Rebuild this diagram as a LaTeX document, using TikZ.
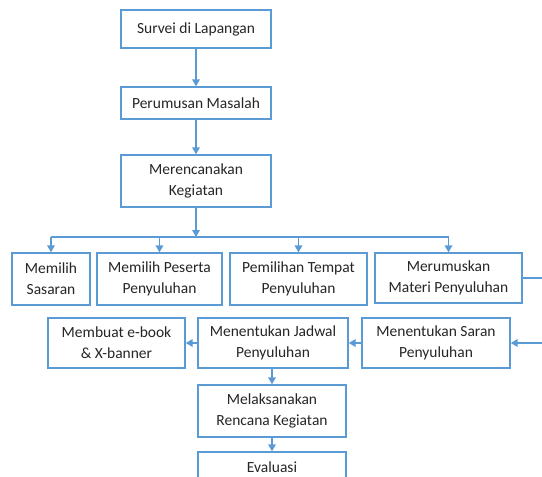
\documentclass[tikz,border=0pt]{standalone}
\usepackage{fontspec}
\setmainfont{Carlito}
\usetikzlibrary{arrows.meta}

\definecolor{boxblue}{RGB}{91,155,213}
\definecolor{txtgrey}{RGB}{38,38,38}

\tikzstyle{kotak} = [draw=boxblue, line width=1.3pt, fill=white, align=center, inner sep=2pt, text=txtgrey, font=\fontsize{15.5}{21}\selectfont]
\tikzstyle{garis} = [draw=boxblue, line width=1.7pt]
\tikzstyle{panah} = [garis, -{Triangle[width=7.5pt,length=7pt]}]

\begin{document}
\begin{tikzpicture}[x=1pt,y=-1pt]
      \useasboundingbox (0,0) rectangle (542,477);
      \clip (0,0) rectangle (542,477);

      \node[kotak, minimum width=150pt, minimum height=38pt] (survei) at (196,29) {Survei di Lapangan};
      \node[kotak, minimum width=150pt, minimum height=32pt] (perumusan) at (196,103) {Perumusan Masalah};
      \node[kotak, minimum width=150pt, minimum height=52pt] (rencana) at (196,181) {Merencanakan\\Kegiatan};

      \node[kotak, minimum width=78pt, minimum height=52pt] (sasaran) at (51,279) {Memilih\\Sasaran};
      \node[kotak, minimum width=125pt, minimum height=52pt] (peserta) at (159.5,279) {Memilih Peserta\\Penyuluhan};
      \node[kotak, minimum width=137pt, minimum height=52pt] (tempat) at (298.5,279) {Pemilihan Tempat\\Penyuluhan};
      \node[kotak, minimum width=147pt, minimum height=50pt] (materi) at (448.5,278) {Merumuskan\\Materi Penyuluhan};

      \node[kotak, minimum width=137pt, minimum height=50pt] (ebook) at (116.5,343) {Membuat e-book\\\& X-banner};
      \node[kotak, minimum width=150pt, minimum height=50pt] (jadwal) at (273,343) {Menentukan Jadwal\\Penyuluhan};
      \node[kotak, minimum width=148pt, minimum height=50pt] (saran) at (436,343) {Menentukan Saran\\Penyuluhan};

      \node[kotak, minimum width=148pt, minimum height=52pt] (laksana) at (272,411) {Melaksanakan\\Rencana Kegiatan};
      \node[kotak, minimum width=148pt, minimum height=46pt, text depth=16pt] (evaluasi) at (272,475) {Evaluasi};

      \coordinate (bus) at (196,237);
      \coordinate (kananatas) at (560,278);
      \coordinate (kananbawah) at (560,343);

      \draw[panah] (survei) -- (perumusan);
      \draw[panah] (perumusan) -- (rencana);
      \draw[panah] (rencana) -- (bus);
      \draw[garis] (bus -| sasaran.north) -- (bus -| materi.north);
      \draw[panah] (bus -| sasaran.north) -- (sasaran.north);
      \draw[panah] (bus -| peserta.north) -- (peserta.north);
      \draw[panah] (bus -| tempat.north) -- (tempat.north);
      \draw[panah] (bus -| materi.north) -- (materi.north);

      \draw[panah] (materi.east) -- (kananatas) -- (kananbawah) -- (saran.east);
      \draw[panah] (saran) -- (jadwal);
      \draw[panah] (jadwal) -- (ebook);
      \draw[panah] (jadwal.south -| laksana) -- (laksana.north);
      \draw[panah] (laksana) -- (evaluasi.north);
    \end{tikzpicture}
\end{document}
